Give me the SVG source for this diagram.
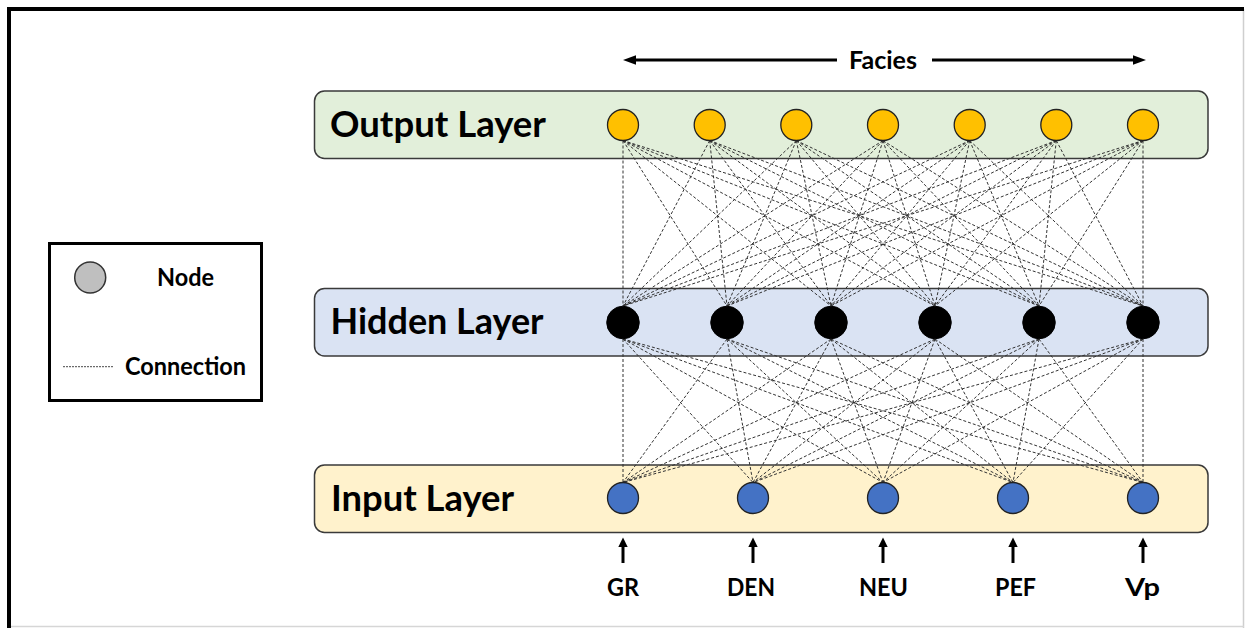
<svg xmlns="http://www.w3.org/2000/svg" width="1245" height="628" viewBox="0 0 1245 628">
<style>
.t{font-family:Lato,"Liberation Sans",sans-serif;font-weight:700;fill:#000}
.big{font-size:36px}
.sm{font-size:24.5px}
.box{stroke:#3a3a3a;stroke-width:1.5}
.conn{fill:none;stroke:#333;stroke-width:1;stroke-dasharray:3 2}
.on{fill:#FFC000;stroke:#222;stroke-width:1.3}
.hn{fill:#000;stroke:#000;stroke-width:1}
.in{fill:#4472C4;stroke:#222;stroke-width:1.3}
.arr{stroke:#000;stroke-width:3;fill:none}
</style>
<rect width="1245" height="628" fill="#fff"/>
<g id="frame">
<line x1="1243.5" y1="9" x2="1243.5" y2="628" stroke="#cfcfcf" stroke-width="1.5"/>
<line x1="9" y1="626.5" x2="1244" y2="626.5" stroke="#d6d6d6" stroke-width="1.5"/>
<line x1="7" y1="9" x2="1244" y2="9" stroke="#000" stroke-width="4"/>
<line x1="9" y1="7" x2="9" y2="628" stroke="#000" stroke-width="4"/>
</g>
<g id="legend">
<rect x="49.5" y="243.5" width="212" height="157" fill="#fff" stroke="#000" stroke-width="3"/>
<circle cx="90.2" cy="277.5" r="15.5" fill="#BFBFBF" stroke="#333" stroke-width="1.5"/>
<text class="t sm" x="157" y="286" textLength="57" lengthAdjust="spacingAndGlyphs">Node</text>
<line x1="63" y1="366.7" x2="113" y2="366.7" stroke="#333" stroke-width="0.9" stroke-dasharray="2 1"/>
<text class="t sm" x="125" y="375" textLength="121" lengthAdjust="spacingAndGlyphs">Connection</text>
</g>
<g id="facies">
<line class="arr" x1="634" y1="60" x2="837" y2="60"/>
<polygon points="623,60 636,55.3 636,64.7" fill="#000"/>
<line class="arr" x1="932" y1="60" x2="1134" y2="60"/>
<polygon points="1146,60 1133,55.3 1133,64.7" fill="#000"/>
<text class="t sm" x="849" y="68.5" textLength="68" lengthAdjust="spacingAndGlyphs">Facies</text>
</g>
<g id="output-layer">
<rect class="box" x="314.5" y="91" width="893.5" height="67.5" rx="10" fill="#E2EFDA"/>
<text class="t big" x="330" y="137" textLength="216" lengthAdjust="spacingAndGlyphs">Output Layer</text>
</g>
<g id="hidden-layer">
<rect class="box" x="314.5" y="288.5" width="893.5" height="67.5" rx="10" fill="#DAE3F3"/>
<text class="t big" x="330.5" y="334" textLength="213" lengthAdjust="spacingAndGlyphs">Hidden Layer</text>
</g>
<g id="input-layer">
<rect class="box" x="314.5" y="465" width="893.5" height="67.5" rx="10" fill="#FFF2CC"/>
<text class="t big" x="331" y="511" textLength="183" lengthAdjust="spacingAndGlyphs">Input Layer</text>
</g>
<g id="connectors">
<path class="conn" d="M623 140.5L623 306M623 140.5L727 306M623 140.5L831 306M623 140.5L935 306M623 140.5L1039 306M623 140.5L1143 306"/>
<path class="conn" d="M709.7 140.5L623 306M709.7 140.5L727 306M709.7 140.5L831 306M709.7 140.5L935 306M709.7 140.5L1039 306M709.7 140.5L1143 306"/>
<path class="conn" d="M796.3 140.5L623 306M796.3 140.5L727 306M796.3 140.5L831 306M796.3 140.5L935 306M796.3 140.5L1039 306M796.3 140.5L1143 306"/>
<path class="conn" d="M883 140.5L623 306M883 140.5L727 306M883 140.5L831 306M883 140.5L935 306M883 140.5L1039 306M883 140.5L1143 306"/>
<path class="conn" d="M969.7 140.5L623 306M969.7 140.5L727 306M969.7 140.5L831 306M969.7 140.5L935 306M969.7 140.5L1039 306M969.7 140.5L1143 306"/>
<path class="conn" d="M1056.3 140.5L623 306M1056.3 140.5L727 306M1056.3 140.5L831 306M1056.3 140.5L935 306M1056.3 140.5L1039 306M1056.3 140.5L1143 306"/>
<path class="conn" d="M1143 140.5L623 306M1143 140.5L727 306M1143 140.5L831 306M1143 140.5L935 306M1143 140.5L1039 306M1143 140.5L1143 306"/>
<path class="conn" d="M623 339L623 482.5M623 339L753 482.5M623 339L883 482.5M623 339L1013 482.5M623 339L1143 482.5"/>
<path class="conn" d="M727 339L623 482.5M727 339L753 482.5M727 339L883 482.5M727 339L1013 482.5M727 339L1143 482.5"/>
<path class="conn" d="M831 339L623 482.5M831 339L753 482.5M831 339L883 482.5M831 339L1013 482.5M831 339L1143 482.5"/>
<path class="conn" d="M935 339L623 482.5M935 339L753 482.5M935 339L883 482.5M935 339L1013 482.5M935 339L1143 482.5"/>
<path class="conn" d="M1039 339L623 482.5M1039 339L753 482.5M1039 339L883 482.5M1039 339L1013 482.5M1039 339L1143 482.5"/>
<path class="conn" d="M1143 339L623 482.5M1143 339L753 482.5M1143 339L883 482.5M1143 339L1013 482.5M1143 339L1143 482.5"/>
</g>
<g id="output-nodes">
<circle id="o1" class="on" cx="623" cy="125" r="15.5"/>
<circle id="o2" class="on" cx="709.7" cy="125" r="15.5"/>
<circle id="o3" class="on" cx="796.3" cy="125" r="15.5"/>
<circle id="o4" class="on" cx="883" cy="125" r="15.5"/>
<circle id="o5" class="on" cx="969.7" cy="125" r="15.5"/>
<circle id="o6" class="on" cx="1056.3" cy="125" r="15.5"/>
<circle id="o7" class="on" cx="1143" cy="125" r="15.5"/>
</g>
<g id="hidden-nodes">
<circle id="h1" class="hn" cx="623" cy="322.5" r="16.3"/>
<circle id="h2" class="hn" cx="727" cy="322.5" r="16.3"/>
<circle id="h3" class="hn" cx="831" cy="322.5" r="16.3"/>
<circle id="h4" class="hn" cx="935" cy="322.5" r="16.3"/>
<circle id="h5" class="hn" cx="1039" cy="322.5" r="16.3"/>
<circle id="h6" class="hn" cx="1143" cy="322.5" r="16.3"/>
</g>
<g id="input-nodes">
<g id="in-gr"><circle class="in" cx="623" cy="498" r="15.5"/><line class="arr" x1="623" y1="546" x2="623" y2="563"/><polygon points="623,537.5 618.3,547 627.7,547" fill="#000"/><text class="t sm" x="623" y="596" text-anchor="middle" textLength="32" lengthAdjust="spacingAndGlyphs">GR</text></g>
<g id="in-den"><circle class="in" cx="753" cy="498" r="15.5"/><line class="arr" x1="753" y1="546" x2="753" y2="563"/><polygon points="753,537.5 748.3,547 757.7,547" fill="#000"/><text class="t sm" x="751" y="596" text-anchor="middle" textLength="48" lengthAdjust="spacingAndGlyphs">DEN</text></g>
<g id="in-neu"><circle class="in" cx="883" cy="498" r="15.5"/><line class="arr" x1="883" y1="546" x2="883" y2="563"/><polygon points="883,537.5 878.3,547 887.7,547" fill="#000"/><text class="t sm" x="883.5" y="596" text-anchor="middle" textLength="49" lengthAdjust="spacingAndGlyphs">NEU</text></g>
<g id="in-pef"><circle class="in" cx="1013" cy="498" r="15.5"/><line class="arr" x1="1013" y1="546" x2="1013" y2="563"/><polygon points="1013,537.5 1008.3,547 1017.7,547" fill="#000"/><text class="t sm" x="1015.5" y="596" text-anchor="middle" textLength="41" lengthAdjust="spacingAndGlyphs">PEF</text></g>
<g id="in-vp"><circle class="in" cx="1143" cy="498" r="15.5"/><line class="arr" x1="1143" y1="546" x2="1143" y2="563"/><polygon points="1143,537.5 1138.3,547 1147.7,547" fill="#000"/><text class="t sm" x="1142.5" y="596" text-anchor="middle" textLength="35" lengthAdjust="spacingAndGlyphs">Vp</text></g>
</g>
</svg>
